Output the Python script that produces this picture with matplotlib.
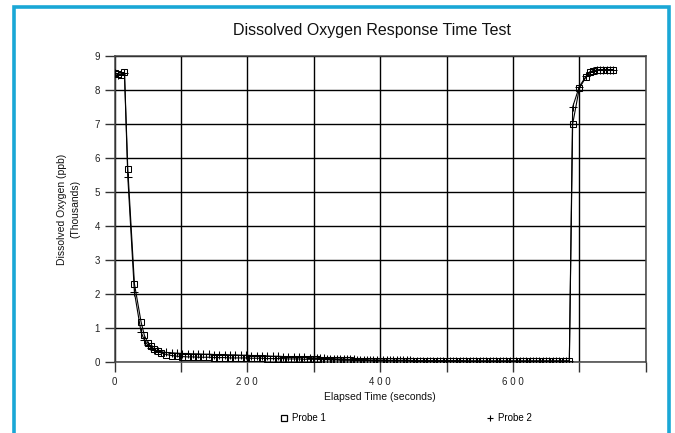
import matplotlib
matplotlib.use("Agg")
import matplotlib.pyplot as plt
from matplotlib.lines import Line2D

plt.rcParams['font.family'] = ['Liberation Sans', 'DejaVu Sans']

title = "Dissolved Oxygen Response Time Test"
x_label = "Elapsed Time (seconds)"
y_label = "Dissolved Oxygen (ppb)\n(Thousands)"
series_names = ["Probe 1", "Probe 2"]

x_ticks = [0, 100, 200, 300, 400, 500, 600, 700, 800]
x_tick_labels = ["0", "", "2 0 0", "", "4 0 0", "", "6 0 0", "", ""]
y_ticks = [0, 1, 2, 3, 4, 5, 6, 7, 8, 9]
y_tick_labels = ["0", "1", "2", "3", "4", "5", "6", "7", "8", "9"]

# elapsed time (s)
time_s = [0, 5, 10, 15, 20, 30, 40, 45, 50, 55, 60, 65, 70,
          78, 86, 94, 102, 110, 118, 126, 134, 142, 150, 158, 166, 174, 182,
          190, 198, 206, 214, 222, 230, 238, 246, 254, 262, 270, 278, 286, 294,
          300, 305, 310, 315, 320, 325, 330, 335, 340, 345,
          350, 355, 360, 365, 370, 375, 380, 385, 390, 395,
          400, 405, 410, 415, 420, 425, 430, 435, 440, 445,
          450, 455, 460, 465, 470, 475, 480, 485, 490, 495,
          500, 505, 510, 515, 520, 525, 530, 535, 540, 545,
          550, 555, 560, 565, 570, 575, 580, 585, 590, 595,
          600, 605, 610, 615, 620, 625, 630, 635, 640, 645,
          650, 655, 660, 665, 670, 675, 680, 685,
          690, 700, 710, 716, 721, 726, 731, 736, 741, 746, 751]

# dissolved oxygen, thousands of ppb
probe1 = [8.50, 8.47, 8.45, 8.52, 5.68, 2.30, 1.18, 0.78, 0.57, 0.46, 0.38, 0.31, 0.27,
          0.22, 0.19, 0.17, 0.16, 0.15, 0.15, 0.14, 0.14, 0.14, 0.13, 0.13, 0.13, 0.12, 0.12,
          0.12, 0.12, 0.11, 0.11, 0.11, 0.10, 0.10, 0.10, 0.10, 0.09, 0.09, 0.09, 0.08, 0.08,
          0.08, 0.08, 0.07, 0.07, 0.07, 0.06, 0.06, 0.06, 0.05, 0.05,
          0.05, 0.05, 0.04, 0.04, 0.04, 0.04, 0.04, 0.04, 0.03, 0.03,
          0.03, 0.03, 0.03, 0.03, 0.03, 0.03, 0.03, 0.03, 0.03, 0.03,
          0.03, 0.03, 0.03, 0.03, 0.03, 0.03, 0.03, 0.03, 0.03, 0.03,
          0.03, 0.03, 0.03, 0.03, 0.03, 0.03, 0.03, 0.03, 0.03, 0.03,
          0.03, 0.03, 0.03, 0.03, 0.03, 0.03, 0.03, 0.03, 0.03, 0.03,
          0.03, 0.03, 0.03, 0.03, 0.03, 0.03, 0.03, 0.03, 0.03, 0.03,
          0.03, 0.03, 0.03, 0.03, 0.03, 0.03, 0.03, 0.03,
          7.00, 8.05, 8.38, 8.52, 8.57, 8.58, 8.60, 8.60, 8.60, 8.60, 8.60]

probe2 = [8.50, 8.45, 8.47, 8.50, 5.45, 2.05, 0.88, 0.64, 0.50, 0.42, 0.36, 0.32, 0.30,
          0.28, 0.27, 0.26, 0.25, 0.25, 0.24, 0.24, 0.23, 0.23, 0.22, 0.22, 0.22, 0.21, 0.21,
          0.20, 0.20, 0.19, 0.19, 0.18, 0.18, 0.17, 0.17, 0.16, 0.16, 0.15, 0.14, 0.14, 0.13,
          0.12, 0.12, 0.11, 0.11, 0.10, 0.10, 0.10, 0.09, 0.09, 0.09,
          0.08, 0.08, 0.08, 0.07, 0.07, 0.07, 0.07, 0.06, 0.06, 0.06,
          0.06, 0.06, 0.05, 0.05, 0.05, 0.05, 0.05, 0.05, 0.05, 0.05,
          0.04, 0.04, 0.04, 0.04, 0.04, 0.04, 0.04, 0.04, 0.04, 0.04,
          0.04, 0.04, 0.04, 0.04, 0.04, 0.04, 0.03, 0.03, 0.03, 0.03,
          0.03, 0.03, 0.03, 0.03, 0.03, 0.03, 0.03, 0.03, 0.03, 0.03,
          0.03, 0.03, 0.03, 0.03, 0.03, 0.03, 0.03, 0.03, 0.03, 0.03,
          0.03, 0.03, 0.03, 0.03, 0.03, 0.03, 0.03, 0.03,
          7.50, 8.10, 8.40, 8.52, 8.57, 8.58, 8.60, 8.60, 8.60, 8.60, 8.60]

W, H = 675, 433
fig = plt.figure(figsize=(W / 100, H / 100), dpi=100)
ax = fig.add_axes([114.5 / W, 1 - 362 / H, (645.7 - 114.5) / W, (362 - 56) / H])

ax.plot(time_s, probe1, color='black', lw=0.8, marker='s', markersize=4.6,
        markerfacecolor='none', markeredgecolor='black', markeredgewidth=0.75,
        label=series_names[0], zorder=3)
ax.plot(time_s, probe2, color='black', lw=0.8, marker='+', markersize=5.5,
        markeredgewidth=0.75, label=series_names[1], zorder=3)

ax.set_xlim(0, 800)
ax.set_ylim(0, 9)
ax.set_xticks(x_ticks)
ax.set_xticklabels(x_tick_labels)
ax.set_yticks(y_ticks)
ax.set_yticklabels(y_tick_labels)
ax.grid(True, color='black', lw=1.0)
ax.set_axisbelow(True)
for s in ax.spines.values():
    s.set_color('#444444')
    s.set_linewidth(1.1)
ax.tick_params(axis='both', direction='out', length=7.5, width=1.0, color='#333333',
               labelsize=7, pad=3, labelcolor='#222222')

ax.set_xlabel(x_label, fontsize=7.5, labelpad=4, color='#111111')
ax.set_ylabel(y_label, fontsize=7.5, labelpad=10, color='#111111', linespacing=1.4)

fig.text(372 / W, 1 - 31 / H, title, ha='center', va='center', fontsize=11.5, color='#111111')

handles = [Line2D([], [], ls='none', marker='s', markersize=4.4, markerfacecolor='none',
                  markeredgecolor='black', markeredgewidth=0.9),
           Line2D([], [], ls='none', marker='+', markersize=5, color='black', markeredgewidth=0.8)]
fig.legend(handles, series_names, loc='center', bbox_to_anchor=(406 / W, 1 - 418 / H),
           ncol=2, frameon=False, fontsize=7, handlelength=0.8, handletextpad=0.4,
           columnspacing=16.5)

# blue frame
blue = '#1aa7d6'
bx0, bx1, by1 = 14.5 / W, 669 / W, 1 - 6.5 / H
fig.add_artist(Line2D([bx0, bx0, bx1, bx1], [-0.05, by1, by1, -0.05],
                      transform=fig.transFigure, color=blue, lw=2.6,
                      solid_joinstyle='miter'))

fig.savefig("out.png", dpi=100)
